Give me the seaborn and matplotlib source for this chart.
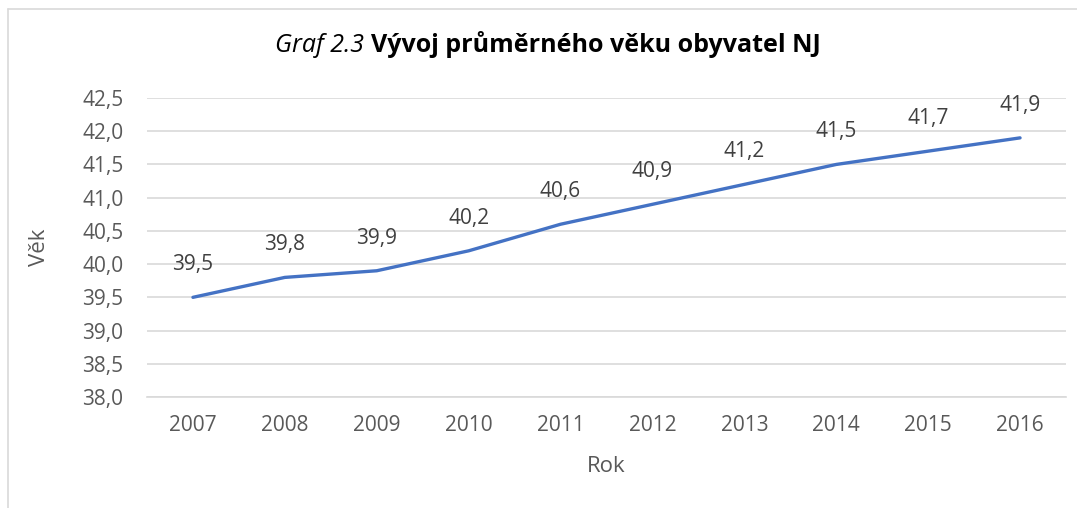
import matplotlib
matplotlib.use('Agg')
import matplotlib.pyplot as plt
import seaborn as sns
import pandas as pd
from matplotlib.lines import Line2D

years = ['2007', '2008', '2009', '2010', '2011', '2012', '2013', '2014', '2015', '2016']
vek = [39.5, 39.8, 39.9, 40.2, 40.6, 40.9, 41.2, 41.5, 41.7, 41.9]
yticks = [38.0, 38.5, 39.0, 39.5, 40.0, 40.5, 41.0, 41.5, 42.0, 42.5]

df = pd.DataFrame({'Rok': years, 'Vek': vek})

sns.set_style('white')
plt.rcParams['font.family'] = ['Open Sans', 'DejaVu Sans']

gray = '#595959'
fig = plt.figure(figsize=(10.77, 5.08), dpi=100)
ax = fig.add_axes([147 / 1077, 1 - 397 / 508, 919 / 1077, 299 / 508])

sns.lineplot(data=df, x='Rok', y='Vek', ax=ax, color='#4472C4', linewidth=2.4, sort=False)

for i, v in enumerate(vek):
    ax.annotate(f'{v:.1f}'.replace('.', ','), (i, v), xytext=(0, 23.5),
                textcoords='offset points', ha='center', va='center',
                fontsize=15, color='#404040')

ax.set_xlim(-0.5, len(years) - 0.5)
ax.set_ylim(38.0, 42.5)
ax.set_yticks(yticks)
ax.set_yticklabels([f'{t:.1f}'.replace('.', ',') for t in yticks])
ax.tick_params(axis='both', length=0, labelsize=15, labelcolor=gray)
ax.tick_params(axis='y', pad=17)
ax.tick_params(axis='x', pad=13)
ax.grid(axis='y', color='#d9d9d9', linewidth=1.2)
ax.set_axisbelow(True)
for s in ['top', 'right', 'left']:
    ax.spines[s].set_visible(False)
ax.spines['bottom'].set_color('#d9d9d9')
ax.spines['bottom'].set_linewidth(1.2)

ax.set_xlabel('Rok', fontsize=16, color=gray, labelpad=14)
ax.set_ylabel('Věk', fontsize=16, color=gray, labelpad=23)

fig.text(364 / 1077, 1 - 45 / 508, 'Graf 2.3', ha='right', va='center',
         fontsize=18, style='italic', color='black')
fig.text(371 / 1077, 1 - 45 / 508, 'Vývoj průměrného věku obyvatel NJ', ha='left',
         va='center', fontsize=18, weight='bold', color='black')

# chart frame (only left and top edges are visible in the crop)
fig.add_artist(Line2D([8 / 1077, 8 / 1077], [0, 1 - 9 / 508], color='#d9d9d9', linewidth=1.2))
fig.add_artist(Line2D([8 / 1077, 1], [1 - 9 / 508, 1 - 9 / 508], color='#d9d9d9', linewidth=1.2))

fig.savefig('out.png', dpi=100)
